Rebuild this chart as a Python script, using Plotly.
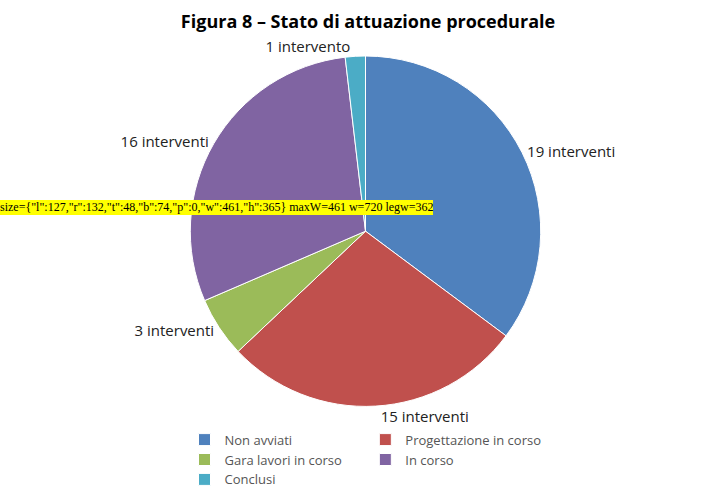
import plotly.graph_objects as go

categories = ["Non avviati", "Progettazione in corso", "Gara lavori in corso", "In corso", "Conclusi"]
values = [19, 15, 3, 16, 1]
labels_text = ["19 interventi", "15 interventi", "3 interventi", "16 interventi", "1 intervento"]
colors = ["#4F81BD", "#C0504D", "#9BBB59", "#8064A2", "#4BACC6"]

fig = go.Figure(go.Pie(
    labels=categories,
    values=values,
    text=labels_text,
    texttemplate="%{text}",
    textposition="outside",
    textfont=dict(family="Open Sans, Liberation Sans, sans-serif", size=15, color="#222222"),
    sort=False,
    direction="clockwise",
    rotation=0,
    marker=dict(colors=colors, line=dict(color="white", width=1)),
    hole=0,
    domain=dict(x=[0.0, 1.0], y=[0.04, 1.0]),
))

fig.update_layout(
    width=720, height=487,
    paper_bgcolor="white",
    plot_bgcolor="white",
    margin=dict(l=0, r=0, t=48, b=34),
    title=dict(
        text="<b>Figura 8 – Stato di attuazione procedurale</b>",
        x=0.5, xanchor="center", y=0.985, yanchor="top",
        font=dict(family="Open Sans, Liberation Sans, sans-serif", size=18, color="#000000"),
    ),
    legend=dict(
        orientation="h", x=0.5, xanchor="center", y=-0.01, yanchor="top",
        font=dict(family="Open Sans, Liberation Sans, sans-serif", size=13, color="#555555"),
        itemwidth=30,
    ),
)

debug_js = """
var gd = document.getElementById('{plot_id}');
var fl = gd._fullLayout;
var d = document.createElement('div');
d.style.position='absolute'; d.style.left='0px'; d.style.top='200px';
d.style.background='yellow'; d.style.fontSize='12px'; d.style.zIndex=1000;
d.textContent = 'size=' + JSON.stringify(fl._size) + ' maxW=' + fl.legend._maxWidth + ' w=' + fl.width + ' legw=' + fl.legend._width;
document.body.appendChild(d);
"""

fig.write_html("out.html", post_script=debug_js)
